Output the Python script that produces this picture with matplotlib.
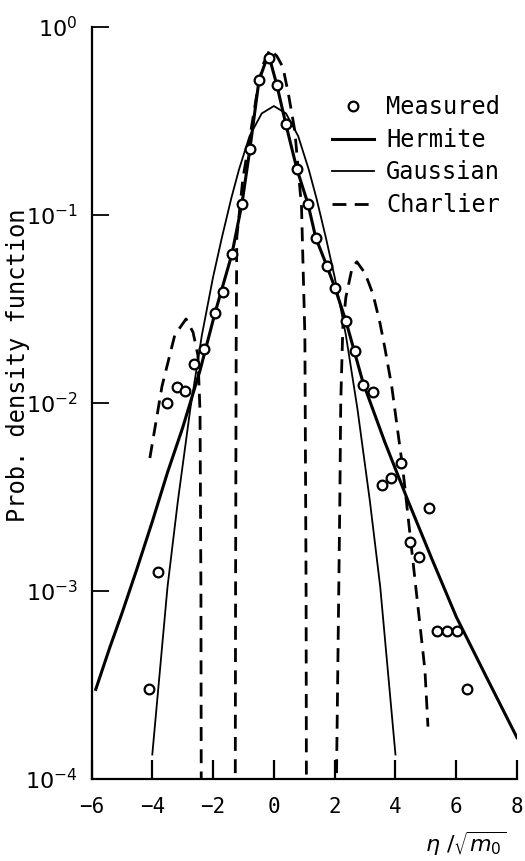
import matplotlib
matplotlib.use("Agg")
import matplotlib.pyplot as plt

plt.rcParams['font.family'] = ['DejaVu Sans Mono', 'DejaVu Sans']

# Measured points
meas_x = [-4.1, -3.82, -3.52, -3.19, -2.93, -2.63, -2.30, -1.94, -1.68, -1.38,
          -1.05, -0.79, -0.49, -0.16, 0.10, 0.39, 0.76, 1.12, 1.38, 1.74,
          2.01, 2.37, 2.66, 2.93, 3.26, 3.55, 3.85, 4.18, 4.47, 4.77,
          5.10, 5.36, 5.69, 6.02, 6.35]
meas_y = [3.0e-4, 1.26e-3, 0.0100, 0.0122, 0.0116, 0.0161, 0.0195, 0.0303, 0.0388, 0.062,
          0.115, 0.224, 0.52, 0.685, 0.49, 0.306, 0.175, 0.115, 0.0755, 0.0538,
          0.0411, 0.0273, 0.0190, 0.0125, 0.0114, 0.00367, 0.0040, 0.0048, 0.00183, 0.00152,
          0.00275, 6.1e-4, 6.1e-4, 6.1e-4, 3.0e-4]

# Hermite series fit
herm_x = [-5.86, -5.4, -5.0, -4.5, -4.0, -3.5, -3.0, -2.43, -1.94, -1.38, -1.05, -0.79,
          -0.49, -0.18, 0.10, 0.39, 0.76, 1.12, 1.38, 1.74, 2.01, 2.37,
          2.93, 3.65, 4.41, 5.2, 6.0, 7.0, 8.0]
herm_y = [3.0e-4, 5.0e-4, 7.6e-4, 1.32e-3, 2.34e-3, 4.27e-3, 7.4e-3, 0.0149, 0.030, 0.062, 0.115, 0.224,
          0.52, 0.72, 0.49, 0.306, 0.175, 0.115, 0.0755, 0.0538, 0.041, 0.0273,
          0.0129, 6.2e-3, 3.03e-3, 1.48e-3, 7.3e-4, 3.47e-4, 1.66e-4]

# Gaussian
gauss_x = [-4.0, -3.5, -3.16, -2.75, -2.37, -2.0, -1.71, -1.4, -1.15, -0.8, -0.4, 0.0,
           0.4, 0.8, 1.15, 1.4, 1.71, 2.0, 2.37, 2.75, 3.16, 3.5, 4.0]
gauss_y = [1.35e-4, 1.05e-3, 3.0e-3, 9.3e-3, 0.0229, 0.0468, 0.0759, 0.123, 0.174, 0.263, 0.347, 0.38,
           0.347, 0.263, 0.174, 0.123, 0.0759, 0.0468, 0.0229, 9.3e-3, 3.0e-3, 1.05e-3, 1.35e-4]

# Charlier series fit (goes negative -> drops off the log axis)
char_x = [-4.08, -3.68, -3.26, -2.89, -2.66, -2.50, -2.43, -2.40, -2.38,
          -1.28, -1.26, -1.24, -1.22, -1.02, -0.79, -0.55, -0.36, -0.13, 0.10, 0.30,
          0.49, 0.69, 0.91, 1.02, 1.06, 1.08,
          2.03, 2.06, 2.17, 2.20, 2.27, 2.37, 2.57, 2.73, 3.0, 3.26, 3.49, 3.65,
          3.88, 4.24, 4.64, 4.97, 5.07]
char_y = [5.1e-3, 0.0123, 0.023, 0.028, 0.0238, 0.018, 0.009, 1e-3, 1e-5,
          1e-5, 1e-3, 0.02, 0.076, 0.156, 0.26, 0.45, 0.63, 0.76, 0.70, 0.61,
          0.43, 0.28, 0.11, 0.023, 1e-3, 1e-5,
          1e-5, 1e-4, 3.0e-3, 0.0101, 0.0255, 0.0366, 0.052, 0.0564, 0.049, 0.038, 0.0267, 0.0197,
          0.0122, 4.5e-3, 1.16e-3, 3.8e-4, 1.9e-4]

xticks = [-6, -4, -2, 0, 2, 4, 6, 8]
yticks = [1e-4, 1e-3, 1e-2, 1e-1, 1e0]
ytick_labels = [r'$10^{-4}$', r'$10^{-3}$', r'$10^{-2}$', r'$10^{-1}$', r'$10^{0}$']

fig = plt.figure(figsize=(5.25, 8.61), dpi=100)
ax = fig.add_axes([0.1743, 0.0952, 0.8105, 0.8734])

ax.plot(meas_x, meas_y, 'o', ms=7, mfc='white', mec='black', mew=1.6, label='Measured', zorder=5)
ax.plot(herm_x, herm_y, '-', color='black', lw=2.2, label='Hermite')
ax.plot(gauss_x, gauss_y, '-', color='black', lw=1.3, label='Gaussian')
ax.plot(char_x, char_y, '--', color='black', lw=2.0, dashes=(5, 3), label='Charlier')

ax.set_yscale('log')
ax.set_xlim(-6, 8)
ax.set_ylim(1e-4, 1)
ax.set_xticks(xticks)
ax.set_yticks(yticks, labels=ytick_labels)
ax.minorticks_off()

for s in ['top', 'right']:
    ax.spines[s].set_visible(False)
for s in ['left', 'bottom']:
    ax.spines[s].set_linewidth(1.6)

ax.tick_params(axis='x', direction='in', length=14, width=1.6, labelsize=15, pad=13)
ax.tick_params(axis='y', direction='in', length=12, width=1.3, labelsize=16, pad=10)

ax.set_ylabel('Prob. density function', fontsize=17, va='center')
ax.yaxis.set_label_coords(-0.173, 0.55)
ax.set_xlabel(r'$\eta\ /\sqrt{m_0}$', fontsize=16, ha='right', va='center')
ax.xaxis.set_label_coords(0.975, -0.086)

ax.legend(loc='upper left', bbox_to_anchor=(0.565, 0.909), frameon=False, fontsize=17,
          handlelength=1.8, handletextpad=0.5, labelspacing=0.36, borderpad=0, borderaxespad=0)

fig.savefig('out.png', dpi=100)
